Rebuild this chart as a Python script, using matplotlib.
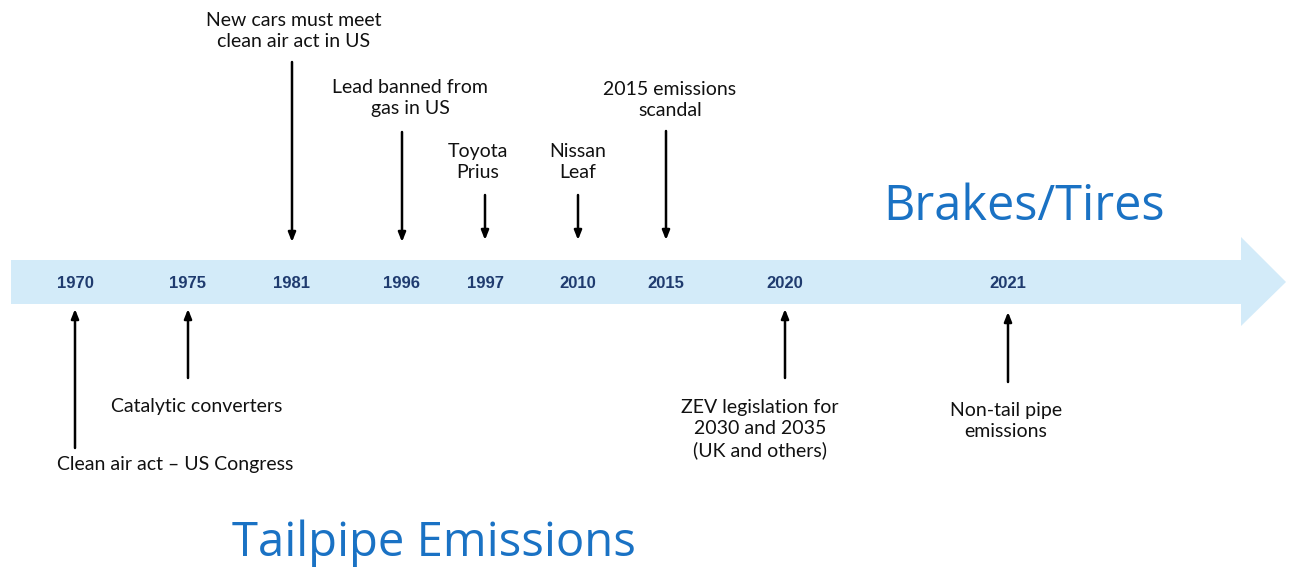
import matplotlib
matplotlib.use("Agg")
import matplotlib.pyplot as plt
from matplotlib.patches import Polygon

# timeline data
years = ["1970", "1975", "1981", "1996", "1997", "2010", "2015", "2020", "2021"]
events = [
    "Clean air act \u2013 US Congress",
    "Catalytic converters",
    "New cars must meet\nclean air act in US",
    "Lead banned from\ngas in US",
    "Toyota\nPrius",
    "Nissan\nLeaf",
    "2015 emissions\nscandal",
    "ZEV legislation for\n2030 and 2035\n(UK and others)",
    "Non-tail pipe\nemissions",
]
sides = ["below", "below", "above", "above", "above", "above", "above", "below", "below"]
phase_labels = ["Tailpipe Emissions", "Brakes/Tires"]

# layout (pixel space, y grows downward)
x_pos = [75, 188, 292, 402, 485, 578, 666, 785, 1008]
arrow_tail = [448, 378, 62, 132, 195, 195, 131, 378, 382]
arrow_tip = [309, 309, 242, 242, 240, 240, 240, 309, 312]
label_y = [456, 398, 12, 79, 143, 143, 81, 399, 402]
label_x = [175, 197, 294, 410, 478, 578, 670, 760, 1006]

W, H = 1290, 571
fig = plt.figure(figsize=(W / 100, H / 100), dpi=100)
ax = fig.add_axes([0, 0, 1, 1])
ax.set_xlim(0, W)
ax.set_ylim(H, 0)
ax.axis("off")

band = "#d3ebf9"
body = Polygon([(11, 260), (1241, 260), (1241, 237), (1286, 282),
                (1241, 326), (1241, 304), (11, 304)], closed=True,
               facecolor=band, edgecolor="none")
ax.add_patch(body)

for x, yr in zip(x_pos, years):
    ax.text(x, 283, yr, ha="center", va="center", fontsize=12,
            fontweight="bold", color="#1f3b6f", family="Liberation Sans")

for i, txt in enumerate(events):
    ax.annotate("", xy=(x_pos[i], arrow_tip[i]), xytext=(x_pos[i], arrow_tail[i]),
                arrowprops=dict(arrowstyle="-|>,head_length=0.55,head_width=0.22",
                                color="black", lw=1.8, shrinkA=0, shrinkB=0))
    ax.text(label_x[i], label_y[i], txt, ha="center", va="top", fontsize=14,
            family="Lato", color="#111111", linespacing=1.3)

ax.text(1024, 207, phase_labels[1], ha="center", va="center", fontsize=35,
        color="#1a72c4", family="Open Sans")
ax.text(434, 543, phase_labels[0], ha="center", va="center", fontsize=34,
        color="#1a72c4", family="Open Sans")

fig.savefig("out.png", dpi=100)
